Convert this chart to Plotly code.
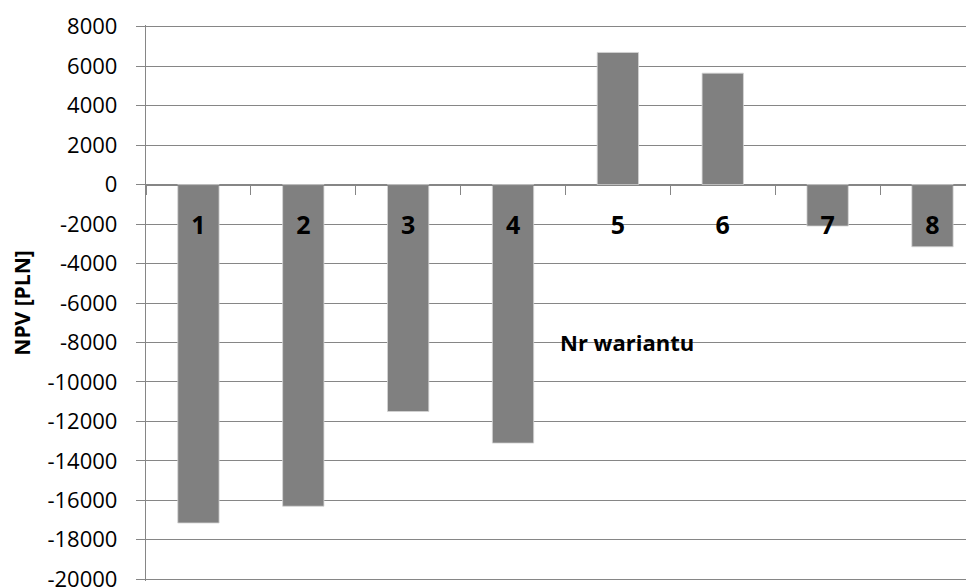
import plotly.graph_objects as go

# Data
warianty = ["1", "2", "3", "4", "5", "6", "7", "8"]
npv = [-17150, -16300, -11500, -13100, 6700, 5650, -2100, -3150]

y_min, y_max, y_step = -20000, 8000, 2000
y_tickvals = list(range(y_min, y_max + 1, y_step))
y_ticktext = [str(v) for v in y_tickvals]

BAR = "#808080"
GRID = "#868686"
FONT = "Open Sans"

fig = go.Figure()
fig.add_trace(go.Bar(
    x=warianty,
    y=npv,
    width=0.394,
    marker=dict(color=BAR, line=dict(color="#d4d4d4", width=0.8)),
    showlegend=False,
    hoverinfo="x+y",
))

pad = 90  # range padding (~1.8px) so the boundary gridlines are kept
r_lo, r_hi = y_min - pad, y_max + pad
zero_pos = (0 - r_lo) / (r_hi - r_lo)

# page body has an 8px default margin; compensate so the plot lands where the reference has it
fig.update_layout(
    width=966,
    height=579,
    margin=dict(l=138, r=0, t=17.2, b=6.2),
    paper_bgcolor="white",
    plot_bgcolor="white",
    font=dict(family=FONT, color="black"),
    bargap=0.606,
    xaxis=dict(
        type="category",
        categoryorder="array",
        categoryarray=warianty,
        range=[-0.5, 7.396],
        anchor="free",
        position=zero_pos,
        showline=True,
        linecolor=GRID,
        linewidth=1.3,
        ticks="outside",
        tickson="boundaries",
        ticklen=9,
        tickcolor=GRID,
        tickwidth=1.3,
        showgrid=False,
        zeroline=False,
        tickfont=dict(family=FONT, size=25, color="black", weight="bold"),
        ticklabelstandoff=18,
    ),
    yaxis=dict(
        range=[r_lo, r_hi],
        tickmode="array",
        tickvals=y_tickvals,
        ticktext=y_ticktext,
        showline=True,
        linecolor=GRID,
        linewidth=1.3,
        ticks="outside",
        ticklen=9,
        tickcolor=GRID,
        tickwidth=1.3,
        showgrid=True,
        gridcolor=GRID,
        gridwidth=1.3,
        zeroline=False,
        tickfont=dict(family=FONT, size=22, color="black"),
        ticklabelstandoff=14,
        ticklabeloverflow="allow",
        automargin=False,
        title=dict(
            text="NPV [PLN]",
            font=dict(family=FONT, size=21, color="black", weight="bold"),
            standoff=15,
        ),
    ),
    annotations=[dict(
        text="Nr wariantu",
        xref="paper", yref="y",
        x=(558 - 146) / 828, y=-8000,
        xanchor="left", yanchor="middle",
        showarrow=False,
        font=dict(family=FONT, size=22, color="black", weight="bold"),
    )],
)

fig.write_html("out.html")
